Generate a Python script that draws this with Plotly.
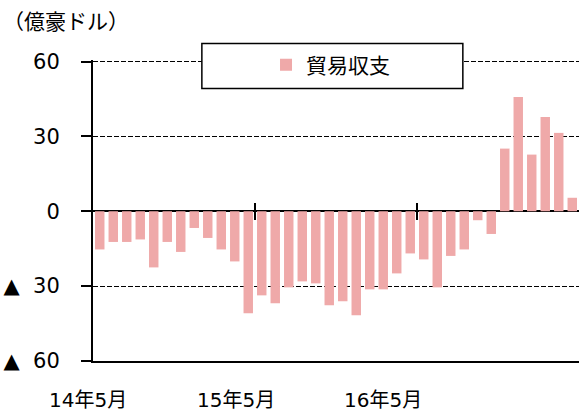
import plotly.graph_objects as go

# Data
months = [f"{y}年{m}月" for y, m in
          [(14, m) for m in range(5, 13)] + [(15, m) for m in range(1, 13)] +
          [(16, m) for m in range(1, 13)] + [(17, m) for m in range(1, 5)]]
trade_balance = [-15.3, -12.3, -12.3, -11.3, -22.5, -12.3, -16.3, -6.7, -10.7, -15.3, -20.1, -40.9,
                 -33.7, -36.9, -30.5, -28.1, -28.9, -37.7, -36.1, -41.7, -31.3, -31.3, -24.9, -16.9,
                 -19.3, -30.5, -17.9, -15.3, -3.6, -9.1, 25.1, 45.8, 22.7, 37.8, 31.4, 5.4]
series_name = "貿易収支"
y_tickvals = [-60, -30, 0, 30, 60]
y_ticktext = ["▲\u00a0\u00a030", "0", "30", "60"]
y_ticktext = ["▲\u00a0\u00a060"] + y_ticktext
x_labels = ["14年5月", "15年5月", "16年5月"]
unit_label = "（億豪ドル）"

FONT = "DejaVu Sans, Noto Sans CJK JP, sans-serif"
BAR_COLOR = "#EFA9A9"

fig = go.Figure()
fig.add_trace(go.Bar(x=months, y=trade_balance, name=series_name,
                     marker=dict(color=BAR_COLOR, line=dict(width=0)),
                     hovertemplate="%{x}: %{y}<extra></extra>"))
# helper traces so the year-boundary tick axes get drawn
for ax in ("x2", "x3"):
    fig.add_trace(go.Scatter(x=[None], y=[None], xaxis=ax, yaxis="y",
                             showlegend=False, hoverinfo="skip"))

n = len(months)
boundaries = [11.5, 23.5]

fig.update_layout(
    width=579, height=414,
    margin=dict(l=93, r=0, t=60, b=53),
    paper_bgcolor="white", plot_bgcolor="white",
    font=dict(family=FONT, size=21, color="black"),
    bargap=0.3,
    showlegend=True,
    legend=dict(x=0.356, y=0.983, xanchor="left", yanchor="middle",
                bgcolor="rgba(0,0,0,0)", borderwidth=0,
                font=dict(family=FONT, size=21, color="black")),
    xaxis=dict(type="category", range=[-0.5, n - 0.5], showticklabels=False,
               ticks="", showgrid=False, zeroline=False,
               showline=True, linecolor="black", linewidth=2),
    xaxis2=dict(overlaying="x", anchor="free", position=60 / 120.6, side="bottom",
                range=[-0.5, n - 0.5], tickvals=boundaries, ticks="outside",
                ticklen=8, tickwidth=2, tickcolor="black", showticklabels=False,
                showgrid=False, zeroline=False, showline=False),
    xaxis3=dict(overlaying="x", anchor="free", position=60 / 120.6, side="bottom",
                range=[-0.5, n - 0.5], tickvals=boundaries, ticks="inside",
                ticklen=8, tickwidth=2, tickcolor="black", showticklabels=False,
                showgrid=False, zeroline=False, showline=False),
    yaxis=dict(range=[-60, 60.6], tickvals=y_tickvals, ticktext=y_ticktext,
               showgrid=True, gridcolor="black", griddash="5px,2px", gridwidth=1.2,
               zeroline=True, zerolinecolor="black", zerolinewidth=2,
               showline=True, linecolor="black", linewidth=2,
               ticks="outside", ticklen=10, tickwidth=1.5, tickcolor="black",
               ticklabelstandoff=17),
    shapes=[dict(type="rect", xref="paper", yref="paper",
                 x0=0.224, x1=0.761, y0=0.905, y1=1.055,
                 fillcolor="white", line=dict(color="black", width=1.5),
                 layer="above")],
)

label_x = [-0.0103, 0.294, 0.597]
for lx, txt in zip(label_x, x_labels):
    fig.add_annotation(x=lx, y=-0.129, xref="paper", yref="paper", text=txt,
                       showarrow=False, xanchor="center", yanchor="middle",
                       font=dict(family=FONT, size=20, color="black"))
fig.add_annotation(x=-0.19, y=1.127, xref="paper", yref="paper", text=unit_label,
                   showarrow=False, xanchor="left", yanchor="middle",
                   font=dict(family=FONT, size=21, color="black"))

fig.write_html("out.html", config={"displayModeBar": False},
               post_script="document.body.style.margin='0';document.body.style.padding='0';")
